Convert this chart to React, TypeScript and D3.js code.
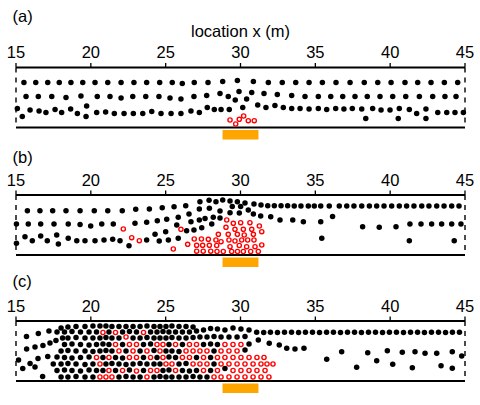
import React from 'react';
import * as d3 from 'd3';

// [location x (m), height above bed (mm)]
type Grain = [number, number];

const xTicks = [15, 20, 25, 30, 35, 40, 45];
const axisTitle = 'location x (m)';
const panelNames = ['(a)', '(b)', '(c)'];
const feedZone: [number, number] = [28.8, 31.2];

// ---- panel (a) ----
const gravelA: Grain[] = [
  [15.53, 45], [16.32, 45], [17.12, 45], [17.89, 45], [18.67, 45], [19.46, 45], [20.28, 45], [21.13, 45],
  [22.02, 45], [22.88, 45], [23.73, 45], [24.6, 45], [25.44, 45], [26.11, 44], [26.91, 45], [27.83, 45],
  [28.81, 46], [29.79, 47], [30.86, 46], [31.86, 45], [32.79, 45], [33.69, 45], [34.58, 45], [35.47, 45],
  [36.38, 45], [37.32, 45], [38.27, 45], [39.17, 45], [40.06, 45], [40.99, 45], [41.84, 45], [42.73, 45],
  [43.62, 45], [44.51, 45],
  [15.67, 31], [16.49, 31], [17.39, 31], [18.34, 30], [19.34, 31.5], [20.43, 31], [21.28, 31], [22.02, 29.5],
  [22.8, 31], [23.67, 31], [24.55, 31], [25.29, 29.5], [26.02, 28.5], [26.89, 31], [27.74, 32], [28.63, 34],
  [29.18, 31], [29.65, 27.5], [29.9, 36], [30.41, 28.5], [30.75, 35], [31.57, 34], [32.46, 33], [33.42, 32],
  [34.31, 31], [35.2, 31], [36.03, 31], [36.83, 31], [37.65, 31], [38.47, 31], [39.32, 31], [40.17, 31],
  [41.04, 31], [41.95, 31], [42.84, 31], [43.66, 31], [44.4, 31],
  [15.09, 19], [15.42, 11], [15.94, 17.5], [16.54, 16.5], [17.0, 15], [17.61, 18], [18.05, 15], [18.65, 18.5],
  [19.1, 14], [19.72, 21.5], [19.68, 11], [20.39, 15], [20.99, 15.5], [21.57, 14], [22.22, 14], [22.84, 14],
  [23.47, 14], [24.07, 16], [24.69, 14], [25.36, 14], [26.02, 14], [26.69, 16.5], [27.25, 15], [27.78, 20],
  [28.25, 18], [28.7, 18], [29.25, 18], [30.15, 20], [31.15, 22.5], [31.7, 20], [32.3, 22], [32.86, 20],
  [33.42, 19], [33.98, 19], [34.58, 18.5], [35.2, 19], [35.76, 18], [36.36, 19], [36.91, 18.5], [37.47, 19],
  [38.1, 18.5], [38.83, 19], [39.39, 17.5], [39.99, 17.5], [40.61, 19], [41.28, 18], [41.77, 14], [42.39, 18.5],
  [43.18, 15], [43.78, 15], [44.33, 15], [44.89, 15],
  [38.37, 9], [40.54, 9], [42.39, 9],
];
const tracerA: Grain[] = [
  [29.3, 7.5], [29.68, 3.5], [29.92, 8.2], [30.21, 11.5], [30.52, 6.8], [30.92, 6.8],
];

// ---- panel (b) ----
const gravelB: Grain[] = [
  [15.76, 44.3], [16.6, 44.3], [17.45, 44.3], [18.34, 44.3], [19.28, 44.3], [20.23, 44.3], [21.13, 44.3],
  [22.1, 44.3], [23.0, 45.7], [23.91, 46], [24.77, 47.3], [25.56, 48.3], [26.34, 49.3], [27.29, 53.3],
  [27.9, 54.7], [28.36, 53.3], [28.81, 55], [29.3, 54], [29.79, 53.3], [30.3, 52], [30.9, 51], [31.37, 50],
  [31.82, 49.3], [32.26, 49.3], [32.71, 49.3], [33.15, 49.3], [33.59, 49], [34.04, 49], [34.53, 49],
  [34.93, 49], [35.36, 49], [35.93, 49], [36.6, 49], [37.1, 49], [37.58, 49], [38.1, 49], [38.61, 49],
  [39.1, 49], [39.59, 49], [40.1, 49], [40.61, 49], [41.1, 49], [41.59, 49], [42.11, 49], [42.59, 49],
  [43.11, 49], [43.6, 49], [44.11, 49], [44.6, 49],
  [15.03, 31], [15.82, 31], [16.65, 31], [17.54, 31], [18.49, 31], [19.28, 30.5], [19.99, 29], [20.73, 31],
  [21.5, 31], [22.95, 31.7], [23.73, 32.7], [24.44, 34.3], [25.07, 35.7], [25.84, 37.7], [27.25, 46],
  [27.92, 46.7], [28.63, 44], [29.45, 48.5], [30.01, 48.5], [30.52, 45], [30.86, 41], [31.35, 39],
  [32.02, 38.3], [32.64, 35], [33.49, 35], [34.2, 33.3], [35.36, 33.3], [36.15, 38.5], [38.16, 28.3],
  [39.27, 27.7], [40.39, 28.3], [41.32, 31], [42.06, 31], [42.77, 31], [43.44, 31], [44.11, 31], [44.73, 31],
  [26.69, 33.3], [27.25, 35], [27.63, 36.5], [28.18, 37.7], [28.63, 37], [29.3, 42.3], [29.92, 42],
  [25.0, 23.3], [26.4, 24.3], [26.89, 25], [27.41, 27.3], [28.08, 31], [24.29, 20.7], [24.57, 14],
  [25.18, 15], [25.84, 16.7], [25.74, 30], [26.56, 41],
  [15.03, 11.7], [15.6, 18.3], [16.09, 14.3], [16.65, 19], [17.09, 14.3], [17.72, 20], [17.83, 11],
  [18.49, 16.7], [19.06, 14.3], [19.61, 14.3], [20.28, 14.3], [20.88, 15], [21.46, 15.7], [21.95, 14.3],
  [22.55, 9.3], [23.73, 15],
  [35.43, 16.7], [41.28, 14.3], [44.28, 14.3],
];
const tracerB: Grain[] = [
  [22.17, 26], [22.73, 17.3], [23.24, 14.3], [25.51, 6], [26.02, 25.7],
  [26.91, 16], [26.47, 10.7], [27.07, 9.7], [27.07, 3.8], [27.47, 9.7], [27.51, 3.8], [27.85, 15.7],
  [27.92, 9.7], [28.01, 3.8], [28.36, 15], [28.41, 9.5], [28.52, 20.7], [28.7, 13.3], [28.85, 3.5],
  [29.08, 35], [29.03, 27.7], [29.18, 20.7], [29.23, 15], [29.3, 8.3], [29.41, 3.5], [29.52, 31.7],
  [29.63, 25.7], [29.63, 14], [29.79, 20.7], [29.92, 9.5], [30.01, 32.3], [30.08, 15], [30.19, 25.7],
  [30.19, 3.5], [30.25, 20], [30.41, 8.3], [30.48, 15], [30.68, 3.5], [30.75, 25.7], [30.86, 20.7],
  [30.9, 15], [30.97, 8.3], [31.19, 3.5], [31.26, 29], [31.42, 23.3], [31.42, 10], [30.63, 32.3],
  [28.43, 3.5], [29.8, 3.5], [27.39, 16],
];

// ---- panel (c) ----
const gravelC: Grain[] = [
  // upstream fringe
  [15.17, 21], [15.45, 12.5], [15.7, 44.5], [15.71, 32], [15.94, 17.5], [16.27, 14], [16.27, 34],
  [16.47, 22.5], [16.49, 47.5], [16.78, 4.5], [16.8, 35.5], [17.12, 24.5], [17.2, 50], [17.27, 38],
  [17.49, 17], [17.67, 40.5],
  // deposit, bottom layer upwards
  [18.01, 4], [18.47, 4], [19.01, 4.5], [19.61, 4], [20.14, 4], [21.88, 4], [22.35, 4.5], [22.82, 4],
  [23.29, 4], [24.22, 4], [24.62, 4.5], [25.02, 4], [25.42, 4], [25.89, 4], [26.36, 4], [26.83, 4.5],
  [27.29, 4], [27.76, 4],
  [17.74, 10.5], [18.24, 11], [18.74, 10.5], [19.31, 10], [19.88, 11], [20.38, 10.5], [20.81, 10.5],
  [21.65, 10.5], [22.58, 11], [23.52, 10.5], [24.82, 10.5], [25.22, 11], [26.12, 10.5], [26.59, 10],
  [27.06, 10.5], [28.0, 10.5], [28.96, 12.5],
  [18.01, 17], [18.47, 17.5], [19.01, 17], [19.61, 16.5], [20.14, 17], [21.01, 17], [21.41, 17.5],
  [21.88, 17], [22.35, 16.5], [22.82, 17], [23.29, 17.5], [23.75, 17], [24.22, 17], [24.62, 17],
  [25.89, 17], [26.36, 17.5], [28.23, 17],
  [17.74, 24], [18.24, 23.5], [18.74, 23], [19.31, 23.5], [19.88, 24], [20.81, 23.5], [21.65, 23.5],
  [22.12, 23], [23.52, 23.5], [24.42, 23.5], [25.22, 24], [25.66, 23.5], [27.06, 23.5], [28.0, 23.5],
  [18.01, 30], [18.47, 30.5], [19.01, 30], [19.61, 30], [20.14, 29.5], [20.61, 30], [21.01, 30.5],
  [21.41, 30], [22.35, 30], [23.29, 30], [24.22, 30.5], [25.02, 30], [25.42, 30], [25.89, 29.5],
  [28.23, 30], [30.3, 31],
  [18.24, 36.5], [18.74, 37], [19.31, 36.5], [19.88, 36], [20.38, 36.5], [20.81, 37], [21.21, 36.5],
  [22.12, 36.5], [23.52, 36.5], [23.99, 37], [25.22, 36.5], [26.12, 36.5], [27.53, 36.5], [28.0, 37],
  [28.46, 36.5],
  [18.11, 43], [18.47, 43], [19.01, 43.5], [19.61, 43], [20.14, 43], [20.61, 43], [21.01, 43.5],
  [21.41, 43], [21.88, 43], [22.82, 43], [23.29, 43], [23.75, 43.5], [24.22, 43], [24.62, 43],
  [25.02, 43], [25.42, 43.5], [25.89, 43], [26.36, 43], [26.83, 43.5], [27.29, 44], [27.76, 44],
  [28.23, 44.5], [28.7, 44], [29.23, 44], [29.77, 44], [30.3, 44.5],
  [17.74, 49], [18.24, 49], [18.74, 49.5], [19.31, 49], [19.88, 49], [20.38, 49], [21.21, 49],
  [22.12, 49], [22.58, 49.5], [23.05, 49], [23.99, 49], [24.42, 49], [24.82, 49.5], [25.22, 49],
  [25.66, 49], [26.12, 49], [26.59, 49], [27.06, 50], [27.53, 51], [28.0, 52.5], [28.46, 52],
  [28.96, 51], [29.5, 53], [30.03, 52], [30.57, 51],
  [18.01, 53], [18.47, 54], [19.01, 54.5], [19.61, 54.5], [20.14, 55], [20.61, 55], [21.01, 55],
  [21.41, 54.5], [21.88, 54.5], [22.35, 54.5], [22.82, 54.5], [23.29, 54.5], [23.75, 55], [24.22, 54.5],
  [24.62, 54.5], [25.02, 54.5], [25.42, 55], [25.89, 54.5], [26.36, 54.5], [26.83, 54],
  // downstream lee slope
  [30.57, 37], [31.19, 41], [31.92, 37.7], [32.59, 36], [33.09, 32.7], [33.64, 32], [34.24, 32.7],
  // surface row
  [31.08, 48.7], [31.55, 48.5], [32.0, 48.7], [32.47, 48.5], [32.94, 48.7], [33.41, 48.7], [33.88, 48.5],
  [34.34, 48.7], [34.81, 48.7], [35.28, 48.5], [35.75, 48.7], [36.21, 48.7], [36.68, 48.5], [37.15, 48.7],
  [37.62, 48.7], [38.08, 48.5], [38.55, 48.7], [39.02, 48.7], [39.49, 48.5], [39.95, 48.7], [40.42, 48.7],
  [40.89, 48.5], [41.36, 48.7], [41.83, 48.7], [42.29, 48.5], [42.76, 48.7], [43.23, 48.7], [43.7, 48.5],
  [44.16, 48.7], [44.63, 48.7],
  // loose grains downstream
  [35.76, 21.7], [36.76, 29.3], [37.76, 13.7], [38.5, 28.3], [39.1, 20.3], [39.81, 30.3], [40.17, 16.7],
  [40.81, 28.7], [41.48, 13.3], [41.66, 29.3], [42.33, 27.7], [43.11, 27.7], [43.4, 15.3], [44.15, 29.3],
  [44.15, 12.7], [44.78, 25],
];
const tracerC: Grain[] = [
  [20.61, 4], [21.01, 4], [21.41, 4], [23.75, 4], [28.23, 4], [28.7, 4], [29.23, 4], [29.77, 4],
  [30.3, 4], [30.84, 4], [31.37, 4], [31.9, 4],
  [21.21, 10.5], [22.12, 10.5], [23.05, 10], [23.99, 10.5], [24.42, 10.5], [25.66, 10.5], [27.53, 10.5],
  [28.46, 10.5], [29.5, 10.5], [30.03, 10.5], [30.57, 10.5], [31.1, 10.5], [31.64, 10.5],
  [20.61, 17], [25.02, 17], [25.42, 17], [26.83, 17], [27.29, 17], [27.76, 17], [28.7, 17], [29.23, 17],
  [29.77, 17], [30.3, 17], [30.84, 17], [31.37, 17], [31.77, 17], [32.17, 17],
  [20.38, 23.5], [21.21, 23.5], [22.58, 23.5], [23.05, 23.5], [23.99, 23.5], [24.82, 23.5], [26.12, 23.5],
  [26.59, 23.5], [27.53, 23.5], [28.46, 23.5], [28.96, 23.5], [29.5, 23.5], [30.03, 23.5], [30.57, 23.5],
  [31.1, 23.5], [31.57, 23.5],
  [21.88, 30], [22.82, 30], [23.75, 30], [24.62, 30], [26.36, 30], [26.83, 30], [27.29, 30], [27.76, 30],
  [28.7, 30], [29.23, 30], [29.77, 30],
  [21.65, 36.5], [22.58, 36.5], [23.05, 36.5], [24.42, 36.5], [24.82, 36.5], [25.66, 36.5], [26.59, 36.5],
  [27.06, 36.5], [28.96, 36.5], [29.5, 36.5], [30.03, 36.5],
  [22.35, 44],
  [20.81, 48.5], [21.65, 48.5], [23.52, 48.5],
];

const panels = [
  { gravel: gravelA, tracer: tracerA },
  { gravel: gravelB, tracer: tracerB },
  { gravel: gravelC, tracer: tracerC },
];

const width = 480;
const height = 405;
const bedTops = [67.5, 195, 321];
const nameBaselines = [21.5, 162.5, 286.5];
const bedDepth = 60;
const font = '"Liberation Sans", Arial, Helvetica, sans-serif';

const x = d3.scaleLinear().domain([15, 45]).range([16, 465]);

function Panel({ idx }: { idx: number }) {
  const top = bedTops[idx];
  const bottom = top + bedDepth;
  const z = d3.scaleLinear().domain([0, 60]).range([bottom, top]);
  const { gravel, tracer } = panels[idx];
  const [x0, x1] = x.range();

  return (
    <g>
      <text x={12.5} y={nameBaselines[idx]} fontSize={16.5} fontFamily={font}>
        {panelNames[idx]}
      </text>
      {idx === 0 && (
        <text x={(x0 + x1) / 2} y={37} fontSize={16.5} fontFamily={font} textAnchor="middle">
          {axisTitle}
        </text>
      )}
      {xTicks.map((t) => (
        <g key={t}>
          <line x1={x(t)} x2={x(t)} y1={top - 4.5} y2={top} stroke="#000" strokeWidth={1.3} />
          <text x={x(t)} y={top - 9.5} fontSize={16.5} fontFamily={font} textAnchor="middle">
            {t}
          </text>
        </g>
      ))}
      {/* feed block below the bed */}
      <rect
        x={x(feedZone[0])}
        y={bottom + 2.5}
        width={x(feedZone[1]) - x(feedZone[0])}
        height={9.5}
        fill="#FFA500"
      />
      {[x0, x1].map((sx) => (
        <line key={sx} x1={sx} x2={sx} y1={top} y2={bottom} stroke="#000" strokeWidth={1.4} strokeDasharray="5 5" />
      ))}
      <line x1={x0} x2={x1} y1={top} y2={top} stroke="#000" strokeWidth={2} />
      <line x1={x0} x2={x1} y1={bottom} y2={bottom} stroke="#000" strokeWidth={2} />
      {gravel.map(([gx, gz], i) => (
        <circle key={'g' + i} cx={x(gx)} cy={z(gz)} r={2.75} fill="#000" />
      ))}
      {tracer.map(([tx, tz], i) => (
        <circle key={'t' + i} cx={x(tx)} cy={z(tz)} r={2.1} fill="#fff" stroke="#ff0000" strokeWidth={1.4} />
      ))}
    </g>
  );
}

export default function App() {
  return (
    <svg
      width={width}
      height={height}
      style={{ position: 'absolute', left: 0, top: 0, background: '#fff' }}
    >
      {panels.map((_, i) => (
        <Panel key={i} idx={i} />
      ))}
    </svg>
  );
}
